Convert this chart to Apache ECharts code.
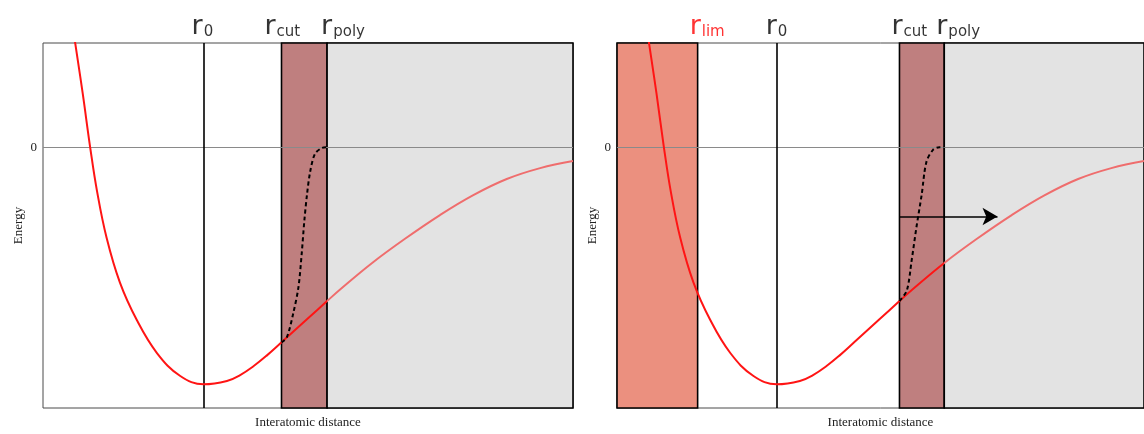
<!DOCTYPE html>
<html>
<head>
<meta charset="utf-8">
<script src="https://cdn.jsdelivr.net/npm/echarts@6/dist/echarts.min.js"></script>
<style>
  html, body { margin: 0; padding: 0; background: #ffffff; }
  #chart { width: 1144px; height: 434px; }
</style>
</head>
<body>
<div id="chart"></div>
<script>
// Pair potential (arbitrary units): interatomic distance vs energy
const distance = [0.60, 0.75, 0.89, 1.02, 1.20, 1.45, 1.77, 2.15, 2.59, 3.03, 3.47, 3.72, 3.97, 4.22,
                  4.50, 4.98, 5.36, 5.60, 6.21, 6.83, 7.49, 8.11, 8.75, 9.38, 10.0];
const energy = [0.451, 0.226, 0, -0.186, -0.382, -0.570, -0.729, -0.868, -0.965, -1.0, -0.986, -0.961, -0.924, -0.879,
                -0.823, -0.726, -0.649, -0.601, -0.488, -0.386, -0.286, -0.203, -0.134, -0.088, -0.058];

// Polynomial taper between r_cut and r_poly (left: original cutoff)
const taperDistLeft = [4.50, 4.60, 4.72, 4.82, 4.88, 4.93, 4.98, 5.04, 5.13, 5.26, 5.36];
const taperEnergyLeft = [-0.823, -0.802, -0.702, -0.590, -0.452, -0.3125, -0.202, -0.104, -0.028, -0.003, 0];
// Taper after the cutoff is shifted outward (right)
const taperDistRight = [5.36, 5.50, 5.59, 5.68, 5.78, 5.87, 6.00, 6.12, 6.21];
const taperEnergyRight = [-0.649, -0.604, -0.479, -0.340, -0.202, -0.063, -0.010, 0, 0];

// Characteristic radii
const leftMarkerNames = ['0', 'cut', 'poly'];
const leftMarkerPos = [3.03, 4.50, 5.36];
const rightMarkerNames = ['lim', '0', 'cut', 'poly'];
const rightMarkerPos = [1.53, 3.03, 5.36, 6.21];

// Shift of the cutoff
const arrowFrom = [5.36, -0.292];
const arrowTo = [7.22, -0.292];

const yTicks = [0];
const xRange = [0, 10];
const yRange = [-1.1, 0.44];

// ---- styling ----
const RED = '#ff1414';
const FAINT = '#ef6d6d';
const BAND = '#bf7f7f';
const LIM = '#eb907f';
const GREY = '#e3e3e3';
const INK = '#000000';
const SERIF = '"Liberation Serif", "DejaVu Serif", serif';
const SANS = '"DejaVu Sans", Verdana, sans-serif';

// horizontal label offsets (px) relative to each vertical marker
const leftLabelDx = [-12, -17, -6];
const rightLabelDx = [-8, -11, -8, -8];

function pairs(xs, ys) { return xs.map((x, i) => [x, ys[i]]); }
const curve = pairs(distance, energy);

function axesFor(idx) {
  return {
    x: {
      type: 'value', gridIndex: idx, min: xRange[0], max: xRange[1],
      name: 'Interatomic distance', nameLocation: 'middle', nameGap: 8,
      nameTextStyle: { fontFamily: SERIF, fontSize: 13, color: '#222', verticalAlign: 'top' },
      axisLine: { show: false }, axisTick: { show: false }, axisLabel: { show: false },
      splitLine: { show: false }
    },
    y: {
      type: 'value', gridIndex: idx, min: yRange[0], max: yRange[1],
      name: 'Energy', nameLocation: 'middle', nameGap: 18,
      nameTextStyle: { fontFamily: SERIF, fontSize: 13, color: '#222' },
      axisLine: { show: false }, axisTick: { show: false },
      axisLabel: { customValues: yTicks, margin: 6, fontFamily: SERIF, fontSize: 13, color: '#222',
                   formatter: v => String(v) },
      splitLine: { show: false }
    }
  };
}

function labelRich(color) {
  return {
    r: { fontSize: 27, lineHeight: 27, verticalAlign: 'top', fontFamily: SANS, color: color },
    s: { fontSize: 15, lineHeight: 15, verticalAlign: 'bottom', padding: [20, 0, 0, 1], fontFamily: SANS, color: color }
  };
}

const series = [];
const visualMaps = [];

function addPanel(idx, opts) {
  const rpoly = opts.rpoly;
  const areas = [];
  if (opts.rlim !== undefined) {
    areas.push([{ xAxis: xRange[0], itemStyle: { color: LIM } }, { xAxis: opts.rlim }]);
  }
  areas.push([{ xAxis: opts.rcut, itemStyle: { color: BAND } }, { xAxis: rpoly }]);
  areas.push([{ xAxis: rpoly, itemStyle: { color: GREY } }, { xAxis: xRange[1] }]);

  // shaded regions
  series.push({
    type: 'line', xAxisIndex: idx, yAxisIndex: idx, data: [], z: 1, silent: true,
    markArea: {
      silent: true, z: 1,
      label: { show: false },
      itemStyle: { borderColor: INK, borderWidth: 1.6, opacity: 1 },
      data: areas
    }
  });
  // zero level and equilibrium distance
  series.push({
    type: 'line', xAxisIndex: idx, yAxisIndex: idx, data: [], z: 2, silent: true,
    markLine: {
      silent: true, z: 2, symbol: 'none', label: { show: false },
      data: [
        { yAxis: 0, lineStyle: { color: '#8a8a8a', width: 1.2, type: 'solid' } },
        { xAxis: opts.r0, lineStyle: { color: INK, width: 1.6, type: 'solid' } }
      ]
    }
  });
  // potential curve: full red inside the cutoff, faded beyond r_poly
  visualMaps.push({
    type: 'piecewise', show: false, seriesIndex: series.length, dimension: 0,
    pieces: [
      { gte: xRange[0], lte: rpoly, color: RED },
      { gt: rpoly, lte: xRange[1], color: FAINT }
    ],
    outOfRange: { color: FAINT }
  });
  series.push({
    type: 'line', xAxisIndex: idx, yAxisIndex: idx, data: curve, z: 3,
    smooth: 0.4, symbol: 'none', lineStyle: { width: 2 }
  });
  // tapered curve
  series.push({
    type: 'line', xAxisIndex: idx, yAxisIndex: idx, data: opts.taper, z: 4,
    smooth: 0.3, symbol: 'none', lineStyle: { color: INK, width: 2, type: [4, 3] }
  });
  // radius labels above the frame
  series.push({
    type: 'scatter', xAxisIndex: idx, yAxisIndex: idx, z: 6, silent: true,
    symbolSize: 0, clip: false,
    data: opts.names.map((n, i) => ({
      value: [opts.pos[i], yRange[1]],
      label: {
        show: true,
        position: [opts.dx[i], -3],
        align: 'left', verticalAlign: 'bottom',
        formatter: '{r|r}{s|' + n + '}',
        rich: labelRich(n === 'lim' ? '#ff0000' : INK)
      }
    }))
  });
  if (opts.arrow) {
    series.push({
      type: 'line', xAxisIndex: idx, yAxisIndex: idx, data: [], z: 5, silent: true,
      markLine: {
        silent: true, z: 5, symbol: ['none', 'arrow'], symbolSize: [13, 15],
        label: { show: false },
        lineStyle: { color: INK, width: 1.6, type: 'solid' },
        data: [[{ coord: opts.arrow[0] }, { coord: opts.arrow[1] }]]
      }
    });
  }
}

addPanel(0, {
  r0: leftMarkerPos[0], rcut: leftMarkerPos[1], rpoly: leftMarkerPos[2],
  names: leftMarkerNames, pos: leftMarkerPos, dx: leftLabelDx,
  taper: pairs(taperDistLeft, taperEnergyLeft)
});
addPanel(1, {
  rlim: rightMarkerPos[0], r0: rightMarkerPos[1], rcut: rightMarkerPos[2], rpoly: rightMarkerPos[3],
  names: rightMarkerNames, pos: rightMarkerPos, dx: rightLabelDx,
  taper: pairs(taperDistRight, taperEnergyRight),
  arrow: [arrowFrom, arrowTo]
});

const left = axesFor(0);
const right = axesFor(1);

const option = {
  animation: false,
  backgroundColor: '#ffffff',
  grid: [
    { left: 43, top: 43, width: 530, height: 369, show: true, borderColor: '#4a4a4a', borderWidth: 1, backgroundColor: 'transparent' },
    { left: 617, top: 43, width: 530, height: 369, show: true, borderColor: '#4a4a4a', borderWidth: 1, backgroundColor: 'transparent' }
  ],
  xAxis: [left.x, right.x],
  yAxis: [left.y, right.y],
  visualMap: visualMaps,
  series: series
};

const chart = echarts.init(document.getElementById('chart'), null, { renderer: 'canvas' });
chart.setOption(option);
</script>
</body>
</html>
